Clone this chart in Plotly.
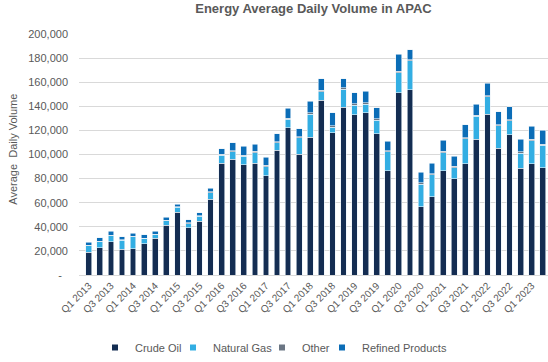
import plotly.graph_objects as go

quarters = [f"Q{q} {y}" for y in range(2013, 2024) for q in (1, 2, 3, 4)][:42]
tick_labels = quarters[::2]

crude_oil = [18900, 22700, 27800, 21400, 21900, 25900, 30300, 41100, 52200, 39200, 44600, 63000,
             92700, 96000, 91400, 92700, 82200, 103500, 122400, 100300, 114300, 145100, 118200, 139400,
             132900, 134800, 117100, 86400, 151300, 153800, 56800, 65000, 86500, 79700, 92200, 112700,
             133300, 105100, 116500, 88700, 92200, 88900]
natural_gas = [5400, 4900, 4600, 7500, 9700, 4400, 3200, 3800, 4000, 3500, 4100, 5400,
               6800, 6200, 7000, 8900, 7800, 6200, 6800, 13500, 19200, 7100, 4300, 14700,
               8100, 7000, 11400, 15800, 16600, 23900, 18700, 18000, 15100, 9500, 20800, 18900,
               14600, 18700, 11400, 12400, 19200, 18700]
other = [400, 400, 400, 400, 400, 400, 400, 500, 500, 500, 500, 600,
         800, 800, 900, 900, 900, 1000, 1000, 1000, 1000, 1100, 1200, 1100,
         1000, 1000, 1200, 1100, 1300, 1100, 1000, 1100, 1000, 1000, 1000, 1000,
         1000, 1000, 1000, 1000, 1100, 1000]
refined_products = [2300, 2800, 3400, 2300, 2600, 2800, 2600, 2700, 2000, 2500, 2400, 2900,
                    4300, 6700, 7500, 5900, 6900, 6600, 8200, 6600, 9600, 9700, 11100, 7800,
                    9300, 9900, 8900, 7600, 14200, 8100, 8800, 8600, 9300, 8200, 10600, 9000,
                    10300, 10600, 10800, 10600, 11000, 11700]

y_ticks = list(range(0, 200001, 20000))
y_tick_text = ["-\u00a0\u00a0"] + [f"{v:,}" for v in y_ticks[1:]]

series = [
    ("Crude Oil", crude_oil, "#142D52"),
    ("Natural Gas", natural_gas, "#33AEE3"),
    ("Other", other, "#6B7684"),
    ("Refined Products", refined_products, "#0B6DB7"),
]

PLOT_L, PLOT_W = 79, 469
legend_px = [95, 173, 262, 322]   # left edge of each legend entry, page pixels
legend_ids = ["legend", "legend2", "legend3", "legend4"]

fig = go.Figure()
for name, vals, col in series:
    fig.add_trace(go.Bar(
        x=quarters, y=vals, name=name, marker=dict(color=col, line=dict(color="#EAF1F8", width=0.6)),
        showlegend=False,
    ))
for (name, vals, col), lid in zip(series, legend_ids):
    fig.add_trace(go.Scatter(
        x=[None], y=[None], mode="markers", name=name, legend=lid,
        marker=dict(symbol="square", size=6, color=col),
    ))

grey = "#595959"
legend_common = dict(orientation="h", xanchor="left", y=-0.243, yanchor="top",
                     font=dict(size=11, color=grey), itemwidth=30,
                     bgcolor="rgba(0,0,0,0)")
legends = {lid: dict(legend_common, x=(px - PLOT_L) / PLOT_W) for lid, px in zip(legend_ids, legend_px)}

fig.update_layout(
    width=548, height=362,
    barmode="stack", bargap=0.48, hovermode=False,
    plot_bgcolor="white", paper_bgcolor="white",
    margin=dict(l=PLOT_L, r=0, t=34, b=83),
    font=dict(family="Liberation Sans, Arial, sans-serif", color=grey, size=11),
    title=dict(text="<b>Energy Average Daily Volume in APAC</b>", x=0.5, xanchor="center",
               xref="paper", yref="container", y=0.99, yanchor="top",
               font=dict(size=13, color=grey)),
    annotations=[dict(text="Average  Daily Volume", textangle=-90, xref="paper", yref="paper",
                      x=-0.1407, y=0.52, xanchor="center", yanchor="middle", showarrow=False,
                      font=dict(size=11, color=grey))],
    **legends,
)
fig.update_xaxes(
    type="category", range=[-0.885, 41.47], tickangle=-45, automargin=False,
    tickmode="array", tickvals=tick_labels, ticktext=tick_labels,
    tickfont=dict(size=10, color=grey), showline=True, linecolor="#D9D9D9", linewidth=1,
    ticks="", showgrid=False,
)
fig.update_yaxes(
    range=[0, 200000], tickvals=y_ticks, ticktext=y_tick_text, automargin=False,
    showgrid=True, gridcolor="#D9D9D9", gridwidth=1, zeroline=False,
    tickfont=dict(size=11, color=grey), ticklabelstandoff=10,
)

fig.write_html("out.html", config={"displayModeBar": False},
               post_script="document.body.style.margin='0';document.body.style.padding='0';")
